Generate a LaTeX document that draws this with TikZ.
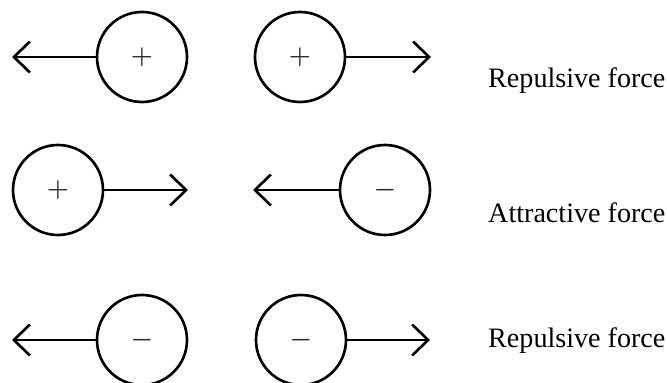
\documentclass[tikz,border=0pt]{standalone}
\usepackage{fontspec}
\setmainfont{Liberation Serif}
\usepackage{xcolor}
\definecolor{sign}{HTML}{2E2E2E}
\usetikzlibrary{arrows.meta}

\begin{document}
\begin{tikzpicture}[every node/.style={font=\fontsize{16}{19}\selectfont},
    charge/.style={draw, circle, line width=1.5pt, minimum size=1.8cm,
      inner sep=0pt, text=sign, font=\boldmath\fontsize{14}{17}\selectfont},
    force/.style={line width=1.5pt,
      -{Straight Barb[length=0.32cm, width=0.62cm]}}]
    \useasboundingbox (0, 0) rectangle (13.34, -7.66);
    % like charges, pushed apart
    \node[charge] (p1) at (2.84, -1.14) {$+$};
    \node[charge] (p2) at (6.00, -1.14) {$+$};
    \coordinate (t1) at (0.24, -1.14);
    \coordinate (t2) at (8.62, -1.14);
    \draw[force] (p1.west) -- (t1);
    \draw[force] (p2.east) -- (t2);
    \node[anchor=base west] (lb1) at (9.64, -1.76) {Repulsive force};
    % unlike charges, pulled together
    \node[charge] (p3) at (1.16, -3.80) {$+$};
    \node[charge] (n1) at (7.70, -3.80) {$-$};
    \coordinate (t3) at (3.76, -3.80);
    \coordinate (t4) at (5.06, -3.80);
    \draw[force] (p3.east) -- (t3);
    \draw[force] (n1.west) -- (t4);
    \node[anchor=base west] (lb2) at (9.64, -4.46) {Attractive force};
    % like charges again
    \node[charge] (n2) at (2.84, -6.80) {$-$};
    \node[charge] (n3) at (6.02, -6.80) {$-$};
    \coordinate (t5) at (0.24, -6.80);
    \coordinate (t6) at (8.60, -6.80);
    \draw[force] (n2.west) -- (t5);
    \draw[force] (n3.east) -- (t6);
    \node[anchor=base west] (lb3) at (9.64, -6.96) {Repulsive force};
  \end{tikzpicture}
\end{document}
